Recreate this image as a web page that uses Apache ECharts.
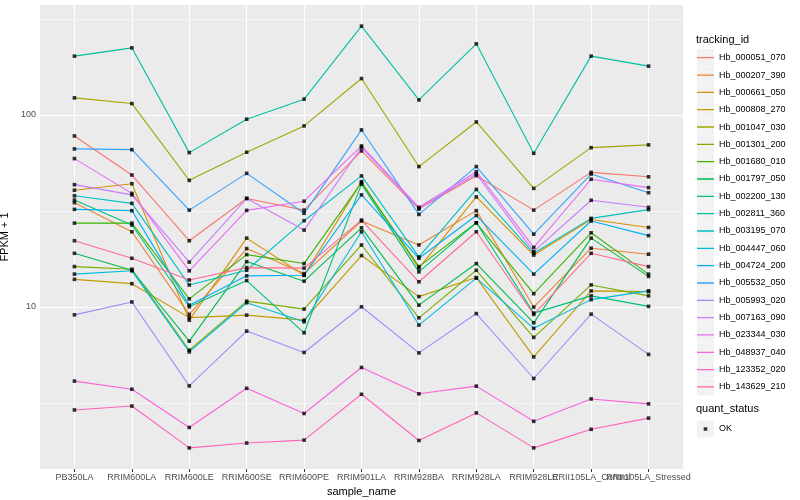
<!DOCTYPE html>
<html>
<head>
<meta charset="utf-8">
<script src="https://cdn.jsdelivr.net/npm/echarts@6.0.0/dist/echarts.min.js"></script>
<style>html,body{margin:0;padding:0;background:#fff}#c{width:800px;height:500px}</style>
</head>
<body>
<div id="c"></div>
<script>
const categories = ['PB350LA','RRIM600LA','RRIM600LE','RRIM600SE','RRIM600PE','RRIM901LA','RRIM928BA','RRIM928LA','RRIM928LE','RRII105LA_Control','RRII105LA_Stressed'];

const hb_000051_070 = [77.7, 48.6, 22.1, 36.7, 31.9, 64.9, 32.3, 48.2, 31.9, 50.2, 47.6];
const hb_000207_390 = [34.9, 24.6, 9.13, 20.1, 14.9, 28.0, 21.0, 31.7, 9.97, 20.2, 18.8];
const hb_000661_050 = [40.5, 43.8, 8.52, 22.8, 14.6, 44.9, 15.9, 37.4, 18.6, 28.5, 25.9];
const hb_000808_270 = [13.9, 13.2, 8.78, 9.05, 8.52, 18.5, 11.3, 14.2, 5.48, 12.1, 12.0];
const hb_001047_030 = [122.7, 114.6, 45.6, 63.9, 87.6, 154.7, 53.8, 91.9, 41.4, 67.5, 69.8];
const hb_001301_200 = [16.2, 15.7, 5.94, 10.7, 9.73, 21.0, 8.76, 15.5, 6.93, 13.0, 11.4];
const hb_001680_010 = [27.3, 27.3, 11.0, 18.7, 16.8, 44.4, 16.2, 27.4, 11.7, 24.3, 14.8];
const hb_001797_050 = [19.0, 15.5, 6.62, 17.2, 13.6, 25.8, 10.2, 16.8, 8.25, 22.8, 14.4];
const hb_002200_130 = [36.0, 26.7, 10.0, 13.7, 7.32, 43.6, 15.2, 27.4, 9.27, 11.4, 10.05];
const hb_002811_360 = [202.4, 223.6, 63.6, 95.0, 120.8, 290.2, 119.7, 234.6, 63.1, 202.4, 179.5];
const hb_003195_070 = [37.9, 34.6, 13.0, 15.5, 28.1, 48.1, 18.2, 40.9, 19.0, 28.9, 32.1];
const hb_004447_060 = [14.8, 15.4, 5.82, 10.5, 8.35, 24.6, 8.03, 14.1, 7.72, 10.9, 12.1];
const hb_004724_200 = [32.2, 31.7, 10.2, 14.5, 14.6, 38.3, 17.9, 29.9, 14.8, 28.0, 23.5];
const hb_005532_050 = [66.5, 65.9, 31.9, 49.6, 30.7, 83.5, 30.3, 53.8, 23.9, 49.2, 39.3];
const hb_005993_020 = [9.08, 10.6, 3.87, 7.47, 5.78, 10.0, 5.75, 9.22, 4.23, 9.16, 5.65];
const hb_007163_090 = [43.3, 38.3, 17.1, 36.7, 25.1, 67.8, 32.6, 49.2, 19.4, 35.9, 33.0];
const hb_023344_030 = [59.2, 39.0, 15.4, 31.8, 35.5, 68.9, 33.0, 50.6, 20.4, 46.2, 41.8];
const hb_048937_040 = [4.10, 3.72, 2.35, 3.76, 2.78, 4.83, 3.52, 3.86, 2.53, 3.31, 3.12];
const hb_123352_020 = [2.90, 3.04, 1.84, 1.95, 2.02, 3.50, 2.01, 2.80, 1.84, 2.30, 2.63];
const hb_143629_210 = [22.1, 17.9, 13.8, 16.0, 15.9, 28.3, 13.5, 24.6, 9.13, 19.0, 16.2];

const trackingIds = ['Hb_000051_070','Hb_000207_390','Hb_000661_050','Hb_000808_270','Hb_001047_030','Hb_001301_200','Hb_001680_010','Hb_001797_050','Hb_002200_130','Hb_002811_360','Hb_003195_070','Hb_004447_060','Hb_004724_200','Hb_005532_050','Hb_005993_020','Hb_007163_090','Hb_023344_030','Hb_048937_040','Hb_123352_020','Hb_143629_210'];
const seriesValues = [hb_000051_070, hb_000207_390, hb_000661_050, hb_000808_270, hb_001047_030, hb_001301_200, hb_001680_010, hb_001797_050, hb_002200_130, hb_002811_360, hb_003195_070, hb_004447_060, hb_004724_200, hb_005532_050, hb_005993_020, hb_007163_090, hb_023344_030, hb_048937_040, hb_123352_020, hb_143629_210];
const quantStatus = 'OK';
const yMajorValues = [10, 100];
const yMinorValues = [Math.sqrt(10), Math.sqrt(1000), Math.sqrt(100000)];

const palette = ['#F8766D','#EA8331','#D89000','#C09B00','#A3A500','#7CAE00','#39B600','#00BB4E','#00BF7D','#00C1A3','#00BFC4','#00BAE0','#00B0F6','#35A2FF','#9590FF','#C77CFF','#E76BF3','#FA62DB','#FF62BC','#FF6C91'];
const FONT = 'Liberation Sans, Arial, Helvetica, sans-serif';

const catIdx = categories.map((c, i) => i);
const evenIdx = catIdx.filter(i => i % 2 === 0);
const oddIdx = catIdx.filter(i => i % 2 === 1);

const lineSeries = trackingIds.map((id, k) => ({
  type: 'line', name: id, z: 2,
  data: seriesValues[k].map((v, i) => [i, v]),
  symbol: 'none', showSymbol: false,
  lineStyle: { color: palette[k], width: 1.1 },
  itemStyle: { color: palette[k] },
  emphasis: { disabled: true }, silent: true
}));
const points = [];
seriesValues.forEach(arr => arr.forEach((v, i) => points.push([i, v])));

const gridSeries = {
  type: 'line', name: '_grid', data: [], silent: true, z: 1,
  markLine: {
    silent: true, symbol: ['none', 'none'], label: { show: false }, animation: false, z: 1,
    emphasis: { disabled: true },
    lineStyle: { color: '#FFFFFF', type: 'solid', width: 1.1 },
    data: [
      ...catIdx.map(i => ({ xAxis: i, lineStyle: { color: '#FFFFFF', width: 1.1, type: 'solid' } })),
      ...yMajorValues.map(v => ({ yAxis: v, lineStyle: { color: '#FFFFFF', width: 1.1, type: 'solid' } })),
      ...yMinorValues.map(v => ({ yAxis: v, lineStyle: { color: '#FFFFFF', width: 0.55, type: 'solid' } }))
    ]
  }
};

const keyRects = [];
for (let i = 0; i < trackingIds.length; i++) {
  keyRects.push({ type: 'rect', shape: { x: 697, y: 49.2 + i * 17.33, width: 17, height: 17 }, style: { fill: '#F2F2F2' }, silent: true });
}
keyRects.push({ type: 'rect', shape: { x: 697, y: 420.5, width: 17, height: 17 }, style: { fill: '#F2F2F2' }, silent: true });

function xAxisDef(labelIdx, withName, withTicks) {
  return {
    type: 'value', min: -0.6, max: 10.6, position: 'bottom', offset: 0,
    name: withName ? 'sample_name' : '', nameLocation: 'middle', nameGap: 10,
    nameTextStyle: { fontSize: 11, color: '#000', fontFamily: FONT },
    splitLine: { show: false }, axisLine: { show: false },
    axisTick: { show: withTicks, length: 3, customValues: catIdx, lineStyle: { color: '#333333', width: 1 } },
    axisLabel: { customValues: labelIdx, formatter: v => categories[Math.round(v)], fontSize: 9, color: '#4D4D4D', margin: 4, fontFamily: FONT, hideOverlap: false, showMinLabel: true, showMaxLabel: true }
  };
}

const chart = echarts.init(document.getElementById('c'), null, { renderer: 'canvas' });
chart.setOption({
  animation: false,
  backgroundColor: '#FFFFFF',
  textStyle: { fontFamily: FONT },
  title: [
    { text: 'tracking_id', left: 696, top: 34, padding: 0, textStyle: { fontSize: 11, fontWeight: 'normal', color: '#000', fontFamily: FONT } },
    { text: 'quant_status', left: 696, top: 403, padding: 0, textStyle: { fontSize: 11, fontWeight: 'normal', color: '#000', fontFamily: FONT } }
  ],
  graphic: keyRects,
  legend: [
    {
      orient: 'vertical', left: 697, top: 49.2, padding: 0,
      itemWidth: 17, itemHeight: 17, itemGap: 0.33,
      data: trackingIds, selectedMode: false,
      icon: 'path://M0,0h0.01v0.01h-0.01z M17,17h0.01v0.01h-0.01z M0,7.85h17v1.3h-17z',
      textStyle: { fontSize: 9, color: '#000', fontFamily: FONT }
    },
    {
      orient: 'vertical', left: 697, top: 420.5, padding: 0,
      itemWidth: 17, itemHeight: 17,
      data: [quantStatus], selectedMode: false,
      icon: 'path://M0,0h0.01v0.01h-0.01z M17,17h0.01v0.01h-0.01z M6.7,6.7h3.6v3.6h-3.6z',
      itemStyle: { color: '#000' },
      textStyle: { fontSize: 9, color: '#000', fontFamily: FONT }
    }
  ],
  grid: { left: 40, right: 117, top: 5, bottom: 31, show: true, backgroundColor: '#EBEBEB', borderWidth: 0, outerBoundsMode: 'none' },
  xAxis: [xAxisDef(evenIdx, true, true), xAxisDef(oddIdx, false, false)],
  yAxis: {
    type: 'log', logBase: 10, min: 1.428, max: 373.9,
    name: 'FPKM + 1', nameLocation: 'middle', nameGap: 21, nameRotate: 90,
    nameTextStyle: { fontSize: 11, color: '#000', fontFamily: FONT },
    splitLine: { show: false }, minorSplitLine: { show: false }, axisLine: { show: false },
    axisTick: { show: true, length: 3, lineStyle: { color: '#333333', width: 1 } },
    axisLabel: { fontSize: 9, color: '#4D4D4D', margin: 4, fontFamily: FONT, showMinLabel: false, showMaxLabel: false,
      formatter: v => (yMajorValues.indexOf(Math.round(v)) >= 0 ? String(Math.round(v)) : '') }
  },
  series: [
    gridSeries,
    ...lineSeries,
    {
      type: 'scatter', name: quantStatus, z: 3, data: points,
      symbol: 'rect', symbolSize: 3.6,
      itemStyle: { color: '#000000' }, silent: true, emphasis: { disabled: true }
    }
  ]
});
</script>
</body>
</html>
